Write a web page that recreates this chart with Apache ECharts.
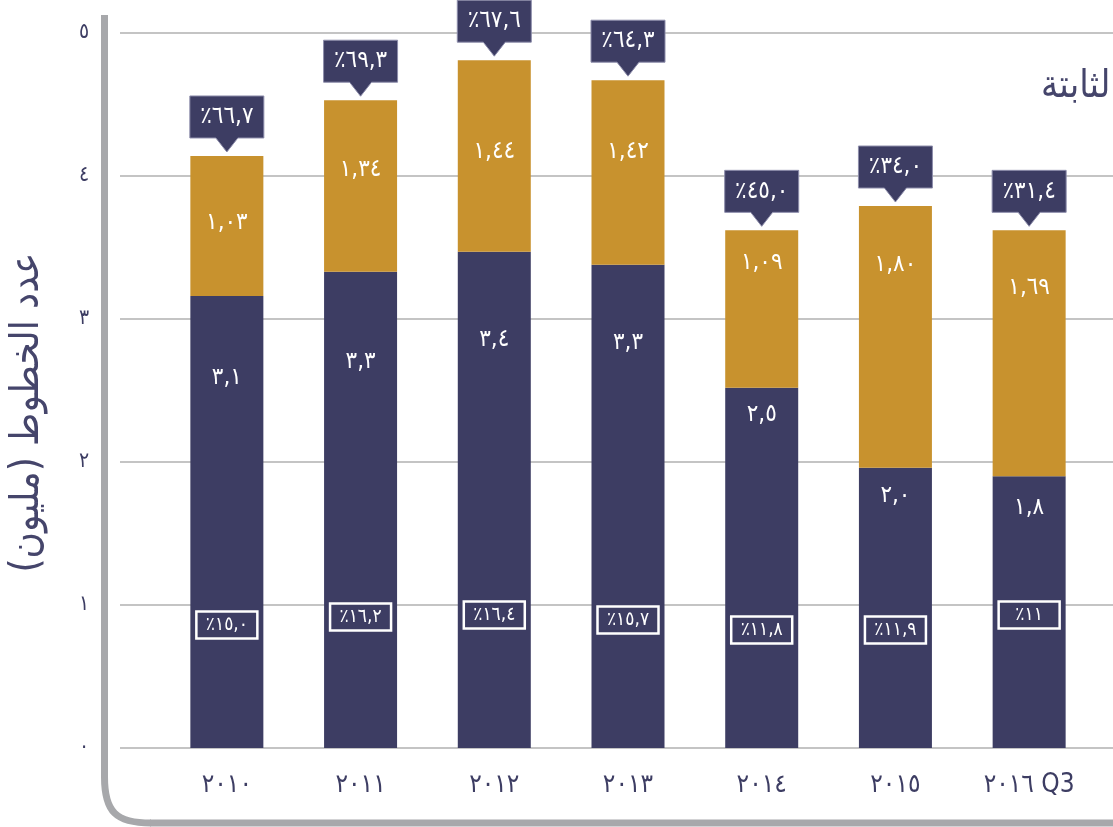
<!DOCTYPE html>
<html lang="ar">
<head>
<meta charset="utf-8">
<script src="https://cdn.jsdelivr.net/npm/echarts@6/dist/echarts.min.js"></script>
<style>
  html, body { margin: 0; padding: 0; background: #fff; }
  #chart { width: 1113px; height: 827px; }
</style>
</head>
<body>
<div id="chart"></div>
<script>
// categories and tick labels
const CATEGORIES = ['٢٠١٠', '٢٠١١', '٢٠١٢', '٢٠١٣', '٢٠١٤', '٢٠١٥', '٢٠١٦ Q3']
const Y_TICKS = ['٠', '١', '٢', '٣', '٤', '٥']

// bar segments (million lines)
const BASE = [3.16, 3.33, 3.47, 3.38, 2.52, 1.96, 1.90]
const TOP = [0.98, 1.20, 1.34, 1.29, 1.10, 1.83, 1.72]

// printed labels
const BASE_LABELS = ['٣,١', '٣,٣', '٣,٤', '٣,٣', '٢,٥', '٢,٠', '١,٨']
const TOP_LABELS = ['١,٠٣', '١,٣٤', '١,٤٤', '١,٤٢', '١,٠٩', '١,٨٠', '١,٦٩']
const SHARE_TOP = ['٪٦٦,٧', '٪٦٩,٣', '٪٦٧,٦', '٪٦٤,٣', '٪٤٥,٠', '٪٣٤,٠', '٪٣١,٤']
const SHARE_BOX = ['٪١٥,٠', '٪١٦,٢', '٪١٦,٤', '٪١٥,٧', '٪١١,٨', '٪١١,٩', '٪١١']

// label placement tweaks (px), layout only
const BASE_LABEL_DROP = [82, 90, 88, 78, 27, 28, 31]
const TOP_LABEL_DROP = [67, 70, 92, 72, 32, 59, 57]
const BOX_LIFT = [123, 131, 133, 128, 118, 118, 133]

const NAVY = '#3d3d63'
const GOLD = '#c8922e'
const FRAME = '#a7a8ab'
const FONT = "'DejaVu Sans Condensed', 'DejaVu Sans', sans-serif"

const chart = echarts.init(document.getElementById('chart'))

function barData(values, drops) {
  return values.map((v, i) => ({
    value: v,
    label: { position: ['50%', drops[i]] }
  }))
}

const option = {
  animation: false,
  backgroundColor: '#fff',
  title: {
    text: 'الخطوط الثابتة',
    left: 1036,
    top: 63,
    textStyle: { fontFamily: FONT, fontSize: 38, fontWeight: 'normal', color: '#45456b' }
  },
  grid: [
    { left: 108, right: 0, top: 33, bottom: 79 },
    { left: 160, right: 17, top: 33, bottom: 79 }
  ],
  xAxis: [
    { gridIndex: 0, type: 'value', show: false },
    {
      gridIndex: 1,
      type: 'category',
      data: CATEGORIES,
      axisLine: { show: false },
      axisTick: { length: 14, lineStyle: { color: '#c4c4c4', width: 1.5 } },
      axisLabel: { margin: 24, fontSize: 26, color: NAVY, fontFamily: FONT }
    }
  ],
  yAxis: [
    {
      gridIndex: 0,
      type: 'value',
      min: 0,
      max: 5,
      interval: 1,
      axisLine: { show: false },
      axisTick: { show: false },
      splitLine: { lineStyle: { color: '#c4c4c4', width: 2 } },
      axisLabel: {
        formatter: (v) => Y_TICKS[v],
        align: 'center',
        margin: 36,
        fontSize: 21,
        color: NAVY,
        fontFamily: FONT
      },
      name: 'عدد الخطوط (مليون)\u200F',
      nameLocation: 'middle',
      nameRotate: 90,
      nameGap: 72,
      nameTextStyle: { fontSize: 40, color: '#45456b', fontFamily: FONT, padding: [0, 44, 0, 0] }
    },
    { gridIndex: 1, type: 'value', min: 0, max: 5, show: false }
  ],
  graphic: [
    {
      type: 'group',
      z: 0,
      children: [
        {
          type: 'line',
          shape: { x1: 104.5, y1: 15, x2: 104.5, y2: 778 },
          style: { stroke: FRAME, lineWidth: 7 }
        },
        {
          type: 'bezierCurve',
          shape: { x1: 104.5, y1: 777, cpx1: 104.5, cpy1: 812, cpx2: 116, cpy2: 823, x2: 151, y2: 823 },
          style: { stroke: FRAME, lineWidth: 7, fill: 'none' }
        },
        {
          type: 'line',
          shape: { x1: 150, y1: 823, x2: 1113, y2: 823 },
          style: { stroke: FRAME, lineWidth: 7 }
        }
      ]
    }
  ],
  series: [
    {
      name: 'base',
      type: 'bar',
      xAxisIndex: 1,
      yAxisIndex: 1,
      stack: 'lines',
      barWidth: 73,
      itemStyle: { color: NAVY },
      data: barData(BASE, BASE_LABEL_DROP),
      label: {
        show: true,
        align: 'center',
        verticalAlign: 'middle',
        color: '#fff',
        fontSize: 24,
        fontFamily: FONT,
        formatter: (p) => BASE_LABELS[p.dataIndex]
      }
    },
    {
      name: 'top',
      type: 'bar',
      xAxisIndex: 1,
      yAxisIndex: 1,
      stack: 'lines',
      barWidth: 73,
      itemStyle: { color: GOLD },
      data: barData(TOP, TOP_LABEL_DROP),
      label: {
        show: true,
        align: 'center',
        verticalAlign: 'middle',
        color: '#fff',
        fontSize: 24,
        fontFamily: FONT,
        formatter: (p) => TOP_LABELS[p.dataIndex]
      }
    },
    {
      // callouts above each stack
      type: 'custom',
      xAxisIndex: 1,
      yAxisIndex: 1,
      z: 5,
      clip: false,
      data: BASE.map((b, i) => [i, b + TOP[i]]),
      renderItem: (params, api) => {
        const pt = api.coord([api.value(0), api.value(1)])
        const x = pt[0], y = pt[1]
        const w = 37
        return {
          type: 'group',
          children: [
            {
              type: 'polygon',
              shape: {
                points: [
                  [x - w, y - 60], [x + w, y - 60], [x + w, y - 18],
                  [x + 11, y - 18], [x, y - 4], [x - 11, y - 18], [x - w, y - 18]
                ]
              },
              style: { fill: NAVY, stroke: '#8d8dab', lineWidth: 1 }
            },
            {
              type: 'text',
              style: {
                text: SHARE_TOP[params.dataIndex],
                x: x,
                y: y - 39,
                align: 'center',
                verticalAlign: 'middle',
                fill: '#fff',
                fontSize: 24,
                fontFamily: FONT
              }
            }
          ]
        }
      }
    },
    {
      // outlined share boxes near the base of each bar
      type: 'custom',
      xAxisIndex: 1,
      yAxisIndex: 1,
      z: 5,
      data: BASE.map((b, i) => [i, 0]),
      renderItem: (params, api) => {
        const pt = api.coord([api.value(0), api.value(1)])
        const x = pt[0], y = pt[1] - BOX_LIFT[params.dataIndex]
        return {
          type: 'group',
          children: [
            {
              type: 'rect',
              shape: { x: x - 30.5, y: y - 13.5, width: 61, height: 27 },
              style: { fill: 'none', stroke: '#fff', lineWidth: 2.5 }
            },
            {
              type: 'text',
              style: {
                text: SHARE_BOX[params.dataIndex],
                x: x,
                y: y,
                align: 'center',
                verticalAlign: 'middle',
                fill: '#fff',
                fontSize: 19,
                fontFamily: FONT
              }
            }
          ]
        }
      }
    }
  ]
}

chart.setOption(option)
window.addEventListener('resize', () => chart.resize())
</script>
</body>
</html>
